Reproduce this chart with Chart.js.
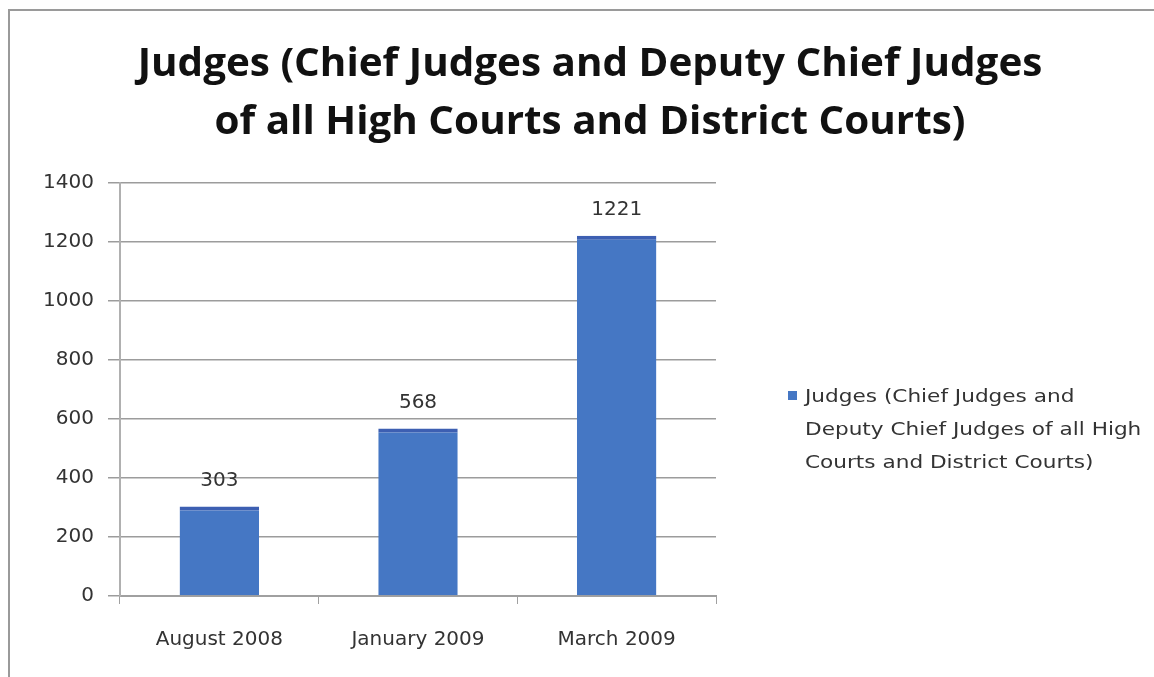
<!DOCTYPE html>
<html>
<head>
<meta charset="utf-8">
<script src="https://cdn.jsdelivr.net/npm/chart.js@4.4.0/dist/chart.umd.min.js"></script>
<style>
  html, body { margin: 0; padding: 0; background: #fff; }
  #wrap { position: relative; width: 1154px; height: 677px; }
  #frame { position: absolute; left: 8px; top: 9px; right: 0; bottom: 0;
           border-top: 2px solid #9a9a9a; border-left: 2px solid #9a9a9a; pointer-events: none; }
  canvas { position: absolute; left: 0; top: 0; }
</style>
</head>
<body>
<div id="wrap">
  <canvas id="chart" width="1154" height="677"></canvas>
  <div id="frame"></div>
</div>
<script>
const titleLines = ['Judges (Chief Judges and Deputy Chief Judges', 'of all High Courts and District Courts)'];
const legendLines = ['Judges (Chief Judges and', 'Deputy Chief Judges of all High', 'Courts and District Courts)'];
const categories = ['August 2008', 'January 2009', 'March 2009'];
const judges = [303, 568, 1221];
const yTicks = [0, 200, 400, 600, 800, 1000, 1200, 1400];

const FONT = "'DejaVu Sans', sans-serif";
const TITLE_FONT = "'Open Sans', 'DejaVu Sans', sans-serif";
const barBlue = '#4577c4';

// text drawn a bit wider than the font's natural width
function wideText(ctx, text, x, y, sx) {
  ctx.save();
  ctx.translate(x, y);
  ctx.scale(sx, 1);
  ctx.fillText(text, 0, 0);
  ctx.restore();
}

// two-line title centred over the whole canvas
const topTitle = {
  id: 'topTitle',
  afterDraw(chart) {
    const ctx = chart.ctx;
    ctx.save();
    ctx.font = 'bold 40px ' + TITLE_FONT;
    ctx.fillStyle = '#111';
    ctx.textAlign = 'center';
    ctx.textBaseline = 'alphabetic';
    titleLines.forEach((l, i) => wideText(ctx, l, 590, 76 + i * 58, 1.01));
    ctx.restore();
  }
};

// value printed above each bar
const barLabels = {
  id: 'barLabels',
  afterDatasetsDraw(chart) {
    const ctx = chart.ctx;
    const meta = chart.getDatasetMeta(0);
    ctx.save();
    ctx.font = '20px ' + FONT;
    ctx.fillStyle = '#333';
    ctx.textAlign = 'center';
    ctx.textBaseline = 'middle';
    meta.data.forEach((bar, i) => {
      ctx.fillText(String(chart.data.datasets[0].data[i]), bar.x, bar.y - 26);
    });
    ctx.restore();
  }
};

// legend on the right, over three lines
const sideLegend = {
  id: 'sideLegend',
  afterDraw(chart) {
    const ctx = chart.ctx;
    const ds = chart.data.datasets[0];
    const x = 788, y0 = 397, lh = 33;
    ctx.save();
    ctx.fillStyle = ds.backgroundColor;
    ctx.fillRect(x, y0 - 6, 9, 9);
    ctx.font = '18px ' + FONT;
    ctx.fillStyle = '#333';
    ctx.textBaseline = 'middle';
    legendLines.forEach((l, i) => wideText(ctx, l, x + 17, y0 + i * lh, 1.2));
    ctx.restore();
  }
};

new Chart(document.getElementById('chart'), {
  type: 'bar',
  data: {
    labels: categories,
    datasets: [{
      label: legendLines.join(' '),
      data: judges,
      backgroundColor: barBlue,
      borderColor: '#3d5fb2',
      borderWidth: { top: 4, left: 0, right: 0, bottom: 0 },
      borderSkipped: 'start',
      categoryPercentage: 1.0,
      barPercentage: 0.4
    }]
  },
  options: {
    responsive: false,
    animation: false,
    layout: { padding: { left: 0, right: 438, top: 183, bottom: 0 } },
    plugins: {
      legend: { display: false },
      tooltip: { enabled: false },
      title: { display: false }
    },
    scales: {
      x: {
        afterFit(scale) { scale.height = 81; },
        grid: { display: true, drawOnChartArea: false, color: '#a0a0a0', tickLength: 8 },
        border: { display: true, color: '#a0a0a0', width: 2 },
        ticks: { color: '#333', font: { family: FONT, size: 20 }, padding: 24 }
      },
      y: {
        min: 0,
        max: 1400,
        afterFit(scale) { scale.width = 120; },
        afterBuildTicks(scale) { scale.ticks = yTicks.map(v => ({ value: v })); },
        grid: { color: '#9c9c9c', lineWidth: 1.5, tickLength: 12 },
        border: { display: true, color: '#b0b0b0', width: 2 },
        ticks: {
          color: '#333',
          font: { family: FONT, size: 20 },
          padding: 14,
          callback: v => String(v)
        }
      }
    }
  },
  plugins: [barLabels, sideLegend, topTitle]
});
</script>
</body>
</html>
